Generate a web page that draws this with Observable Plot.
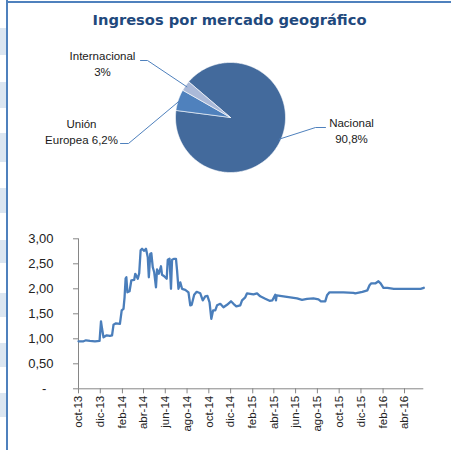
<!DOCTYPE html>
<html>
<head>
<meta charset="utf-8">
<script src="https://cdn.jsdelivr.net/npm/d3@7"></script>
<script src="https://cdn.jsdelivr.net/npm/@observablehq/plot@0.6"></script>
<style>
  html, body { margin: 0; padding: 0; background: #ffffff; }
  #root { position: relative; width: 451px; height: 450px; overflow: hidden; font-family: "Liberation Sans", Arial, sans-serif; }
  .band { position: absolute; left: 0; width: 6px; background: #dce6f1; }
  #clip { position: absolute; left: 0; top: 0; width: 6px; height: 450px; overflow: hidden; }
  #vline { position: absolute; left: 6px; top: 0; width: 2px; height: 450px; background: #4f81bd; }
  #hline { position: absolute; left: 6px; top: 1px; width: 445px; height: 2px; background: #4f81bd; }
  #title { position: absolute; left: 8px; width: 443px; top: 11px; text-align: center; font-family: "DejaVu Sans", Verdana, sans-serif; font-weight: bold; font-size: 14.7px; color: #1f497d; }
  #pie { position: absolute; left: 0; top: 0; }
  #line { position: absolute; left: 0; top: 225px; }
  svg { overflow: visible; }
</style>
</head>
<body>
<div id="root">
  <div id="clip"></div>
  <div id="vline"></div>
  <div id="hline"></div>
  <div id="pie"></div>
  <div id="title">Ingresos por mercado geográfico</div>
  <div id="line"></div>
</div>
<script>
// ---------- Pie data ----------
const pieCategories = ["Nacional", "Unión Europea", "Internacional"];
const pieValues = [90.8, 6.2, 3];
const pieLabelLines = [["Nacional", "90,8%"], ["Unión", "Europea 6,2%"], ["Internacional", "3%"]];
const pieColors = ["#436a9c", "#4f81bd", "#aab9d8"];

// ---------- Line series ----------
const seriesDates = [
  "2013-10-01","2013-10-15","2013-10-22","2013-11-02","2013-11-16","2013-11-29","2013-12-03","2013-12-06",
  "2013-12-10","2013-12-19","2013-12-28","2014-01-03","2014-01-07","2014-01-14","2014-01-25","2014-01-30",
  "2014-02-04","2014-02-07","2014-02-10","2014-02-12","2014-02-15","2014-02-21","2014-02-26","2014-03-06",
  "2014-03-09","2014-03-16","2014-03-20","2014-03-24","2014-03-28","2014-04-03","2014-04-08","2014-04-13",
  "2014-04-16","2014-04-20","2014-04-23","2014-04-27","2014-05-01","2014-05-06","2014-05-09","2014-05-14",
  "2014-05-20","2014-05-23","2014-05-29","2014-06-05","2014-06-08","2014-06-13","2014-06-17","2014-06-20",
  "2014-06-26","2014-07-01","2014-07-04","2014-07-08","2014-07-13","2014-07-18","2014-07-27","2014-08-05",
  "2014-08-10","2014-08-14","2014-08-21","2014-08-28","2014-09-07","2014-09-14","2014-09-21","2014-09-27",
  "2014-10-03","2014-10-08","2014-10-13","2014-10-19","2014-10-24","2014-11-02","2014-11-11","2014-11-21",
  "2014-12-02","2014-12-09","2014-12-17","2014-12-28","2015-01-02","2015-01-11","2015-01-16","2015-01-25",
  "2015-02-03","2015-02-13","2015-02-22","2015-03-08","2015-03-20","2015-03-28","2015-04-05","2015-04-07",
  "2015-04-09","2015-04-28","2015-05-17","2015-06-05","2015-06-19","2015-07-03","2015-07-21","2015-08-04",
  "2015-08-11","2015-08-23","2015-08-28","2015-09-04","2015-10-13","2015-11-10","2015-11-15","2015-12-05",
  "2015-12-19","2015-12-25","2015-12-30","2016-01-11","2016-01-19","2016-01-25","2016-02-02","2016-02-13",
  "2016-03-02","2016-04-18","2016-05-16","2016-05-25"
];
const seriesValues = [
  0.95,0.95,0.97,0.96,0.95,0.96,1.35,1.20,
  1.03,1.07,1.06,1.07,1.28,1.31,1.30,1.57,
  1.60,1.83,2.21,2.23,1.93,1.95,2.17,2.18,
  2.30,2.20,2.31,2.77,2.80,2.76,2.80,2.63,
  2.23,2.70,2.71,2.43,2.33,2.03,2.39,2.30,
  2.45,2.28,2.25,2.20,2.58,2.60,2.00,2.58,
  2.60,2.60,2.37,2.00,2.13,2.00,1.98,1.93,
  1.67,1.68,1.88,1.94,1.91,1.77,1.85,1.86,
  1.73,1.40,1.57,1.57,1.67,1.70,1.63,1.68,
  1.75,1.70,1.65,1.67,1.77,1.83,1.91,1.90,
  1.89,1.91,1.85,1.80,1.76,1.77,1.88,1.77,
  1.87,1.85,1.83,1.81,1.78,1.80,1.81,1.79,
  1.75,1.75,1.87,1.93,1.93,1.92,1.91,1.94,
  1.97,2.07,2.11,2.11,2.15,2.11,2.02,2.02,
  2.00,2.00,2.00,2.02
];
const xTickDates = ["2013-10-01","2013-12-01","2014-02-01","2014-04-01","2014-06-01","2014-08-01","2014-10-01",
  "2014-12-01","2015-02-01","2015-04-01","2015-06-01","2015-08-01","2015-10-01","2015-12-01","2016-02-01","2016-04-01"];
const xTickLabels = ["oct-13","dic-13","feb-14","abr-14","jun-14","ago-14","oct-14","dic-14",
  "feb-15","abr-15","jun-15","ago-15","oct-15","dic-15","feb-16","abr-16"];
const yTickValues = [0, 0.5, 1, 1.5, 2, 2.5, 3];
const yTickLabels = ["-\u2007", "0,50", "1,00", "1,50", "2,00", "2,50", "3,00"];

// ---------- decorative page frame (shaded strip of neighbouring page) ----------
const bandSpans = [[28,55],[82,108],[133,162],[188,213],[240,263],[293,317],[343,367],[393,417]];
const clip = document.getElementById("clip");
bandSpans.forEach(([a,b]) => { const d = document.createElement("div"); d.className = "band"; d.style.top = a + "px"; d.style.height = (b - a) + "px"; clip.appendChild(d); });

// ---------- Pie chart ----------
const pieW = 451, pieH = 200, cx = 230, cy = 117, R = 55;
const startDeg = -49.5;
const arcs = d3.pie().sort(null)
  .startAngle(startDeg * Math.PI / 180)
  .endAngle(startDeg * Math.PI / 180 + 2 * Math.PI)(pieValues);

const unit = a => [Math.sin(a), Math.cos(a)];
const sliceMarks = arcs.map((a, i) => {
  const pts = [{x: 0, y: 0}];
  const n = Math.max(4, Math.ceil((a.endAngle - a.startAngle) / (Math.PI / 180)));
  for (let k = 0; k <= n; k++) {
    const t = a.startAngle + (a.endAngle - a.startAngle) * k / n;
    const [x, y] = unit(t);
    pts.push({x, y});
  }
  pts.push({x: 0, y: 0});
  return Plot.line(pts, {x: "x", y: "y", fill: pieColors[i], stroke: "#ffffff", strokeWidth: 0.6, strokeLinejoin: "round", curve: "linear"});
});

const labelLayout = [
  {elbow: [315, 127], end: [325, 127], text: [351, 123]},
  {elbow: [128, 143], end: [120, 143], text: [81, 124]},
  {elbow: [147, 60], end: [140, 60], text: [102, 56]}
];
const toU = ([px, py]) => ({x: (px - cx) / R, y: (cy - py) / R});
const leaderMarks = arcs.map((a, i) => {
  const mid = (a.startAngle + a.endAngle) / 2;
  const [sx, sy] = unit(mid);
  const pts = [{x: sx * 0.97, y: sy * 0.97}, toU(labelLayout[i].elbow), toU(labelLayout[i].end)];
  return Plot.line(pts, {x: "x", y: "y", stroke: "#4f81bd", strokeWidth: 1});
});
const labelRows = [];
pieLabelLines.forEach((lines, i) => {
  const c = labelLayout[i].text;
  lines.forEach((t, j) => labelRows.push({...toU([c[0], c[1] + j * 15.5]), t}));
});

const pie = Plot.plot({
  width: pieW, height: pieH,
  marginTop: 0, marginBottom: 0, marginLeft: 0, marginRight: 0,
  x: {domain: [-cx / R, (pieW - cx) / R], axis: null},
  y: {domain: [-(pieH - cy) / R, cy / R], axis: null},
  style: {background: "transparent"},
  marks: [
    ...sliceMarks,
    ...leaderMarks,
    Plot.text(labelRows, {x: "x", y: "y", text: "t", fontSize: 11.5, fill: "#1a1a1a", fontFamily: "Liberation Sans, Arial, sans-serif", textAnchor: "middle"})
  ]
});
document.getElementById("pie").appendChild(pie);

// ---------- Line chart ----------
const lineData = seriesDates.map((d, i) => ({date: new Date(d), value: seriesValues[i]}));
const xTicks = xTickDates.map(d => new Date(d));
const xLabelMap = new Map(xTicks.map((d, i) => [+d, xTickLabels[i]]));
const yLabelMap = new Map(yTickValues.map((v, i) => [v, yTickLabels[i]]));
const xStart = new Date("2013-10-01"), xEnd = new Date("2016-05-25");

const line = Plot.plot({
  width: 451, height: 225,
  marginLeft: 78, marginRight: 27.7, marginTop: 13.3, marginBottom: 61.7,
  x: {type: "utc", domain: [xStart, xEnd]},
  y: {domain: [0, 3]},
  style: {background: "transparent", color: "#222"},
  marks: [
    Plot.axisY({ticks: yTickValues, tickFormat: v => yLabelMap.get(v), tickSize: 5, tickPadding: 20, fontSize: 13, label: null, stroke: "#868686", fill: "#222", fontFamily: "Liberation Sans, Arial, sans-serif"}),
    Plot.axisX({ticks: xTicks, tickFormat: d => xLabelMap.get(+d), tickRotate: -90, tickSize: 5, tickPadding: 2, fontSize: 11.5, label: null, stroke: "#868686", fill: "#222", fontFamily: "Liberation Sans, Arial, sans-serif"}),
    Plot.ruleX([xStart], {stroke: "#868686", strokeWidth: 1}),
    Plot.ruleY([0], {stroke: "#868686", strokeWidth: 1}),
    Plot.line(lineData, {x: "date", y: "value", stroke: "#4a7ebb", strokeWidth: 2.3, strokeLinejoin: "round"})
  ]
});
document.getElementById("line").appendChild(line);
</script>
</body>
</html>
